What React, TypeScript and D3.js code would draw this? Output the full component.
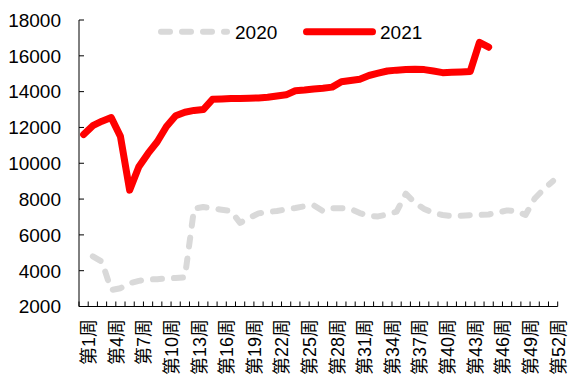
import React from 'react';
import * as d3 from 'd3';

const weeks: string[] = Array.from({ length: 52 }, (_, i) => `第${i + 1}周`);
const labelWeeks: string[] = ['第1周','第4周','第7周','第10周','第13周','第16周','第19周','第22周','第25周','第28周','第31周','第34周','第37周','第40周','第43周','第46周','第49周','第52周'];
const yTicks: number[] = [2000, 4000, 6000, 8000, 10000, 12000, 14000, 16000, 18000];

const series2020: (number | null)[] = [
  null, 4800, 4500, 2920, 3020, 3300, 3430, 3510, 3525, 3565,
  3590, 3630, 7470, 7560, 7475, 7400, 7335, 6670, 6950, 7200,
  7280, 7335, 7420, 7500, 7600, 7650, 7330, 7490, 7490, 7450,
  7220, 7055, 7030, 7140, 7300, 8300, 7780, 7450, 7220, 7110,
  7055, 7070, 7100, 7110, 7140, 7250, 7365, 7335, 7110, 8030,
  8560, 9010,
];

const series2021: (number | null)[] = [
  11600, 12100, 12350, 12550, 11500, 8500, 9800, 10550, 11200, 12050,
  12650, 12850, 12950, 13000, 13570, 13590, 13610, 13620, 13630, 13650,
  13690, 13760, 13820, 14050, 14090, 14150, 14190, 14250, 14550, 14620,
  14690, 14900, 15030, 15150, 15200, 15230, 15250, 15230, 15150, 15060,
  15080, 15100, 15130, 16750, 16480, null, null, null, null, null,
  null, null,
];

const W = 571;
const H = 381;
const left = 79;
const right = 557.7;
const top = 20;
const bottom = 306.5;

export default function App() {
  const x = d3.scaleBand<string>().domain(weeks).range([left, right]).padding(0);
  const y = d3.scaleLinear().domain([2000, 18000]).range([bottom, top]);
  const cx = (i: number) => (x(weeks[i]) as number) + x.bandwidth() / 2;

  const line = d3
    .line<number | null>()
    .defined((d) => d !== null)
    .x((_, i) => cx(i))
    .y((d) => y(d as number));

  const font = '"Liberation Sans", Arial, "Noto Sans CJK SC", sans-serif';
  const boundaries = d3.range(weeks.length + 1).map((i) => left + i * x.bandwidth());

  return (
    <svg width={W} height={H} style={{ position: 'absolute', left: 0, top: 0 }}>
      <rect width={W} height={H} fill="#fff" />
      {/* y axis */}
      <line x1={left} x2={left} y1={top} y2={bottom} stroke="#000" strokeWidth={1} />
      {yTicks.map((t) => (
        <g key={t}>
          <line x1={left} x2={left + 5} y1={y(t)} y2={y(t)} stroke="#000" />
          <text x={61} y={y(t)} dy="0.36em" textAnchor="end" fontSize={19} fontFamily={font} fill="#000">
            {t}
          </text>
        </g>
      ))}
      {/* x axis */}
      <line x1={left} x2={right} y1={bottom} y2={bottom} stroke="#000" strokeWidth={1} />
      {boundaries.map((b, i) => (
        <line key={i} x1={b} x2={b} y1={bottom} y2={bottom - 5} stroke="#000" />
      ))}
      {labelWeeks.map((w) => {
        const i = weeks.indexOf(w);
        return (
          <text
            key={w}
            transform={`translate(${cx(i) + 5},${319}) rotate(-90)`}
            dy="0.36em"
            textAnchor="end"
            fontSize={18}
            fontFamily={font}
            fill="#000"
          >
            {w}
          </text>
        );
      })}
      {/* series */}
      <path
        d={line(series2020) || ''}
        fill="none"
        stroke="#d9d9d9"
        strokeWidth={6}
        strokeDasharray="9 12"
        strokeLinecap="round"
        strokeLinejoin="round"
      />
      <path
        d={line(series2021) || ''}
        fill="none"
        stroke="#ff0000"
        strokeWidth={7}
        strokeLinecap="round"
        strokeLinejoin="round"
      />
      {/* legend */}
      <line x1={161} x2={227} y1={31.7} y2={31.7} stroke="#d9d9d9" strokeWidth={6} strokeDasharray="9 12" strokeLinecap="round" />
      <text x={235} y={31.7} dy="0.36em" fontSize={19} fontFamily={font} fill="#000">2020</text>
      <line x1={306.5} x2={372.5} y1={31.7} y2={31.7} stroke="#ff0000" strokeWidth={7} strokeLinecap="round" />
      <text x={380} y={31.7} dy="0.36em" fontSize={19} fontFamily={font} fill="#000">2021</text>
    </svg>
  );
}
